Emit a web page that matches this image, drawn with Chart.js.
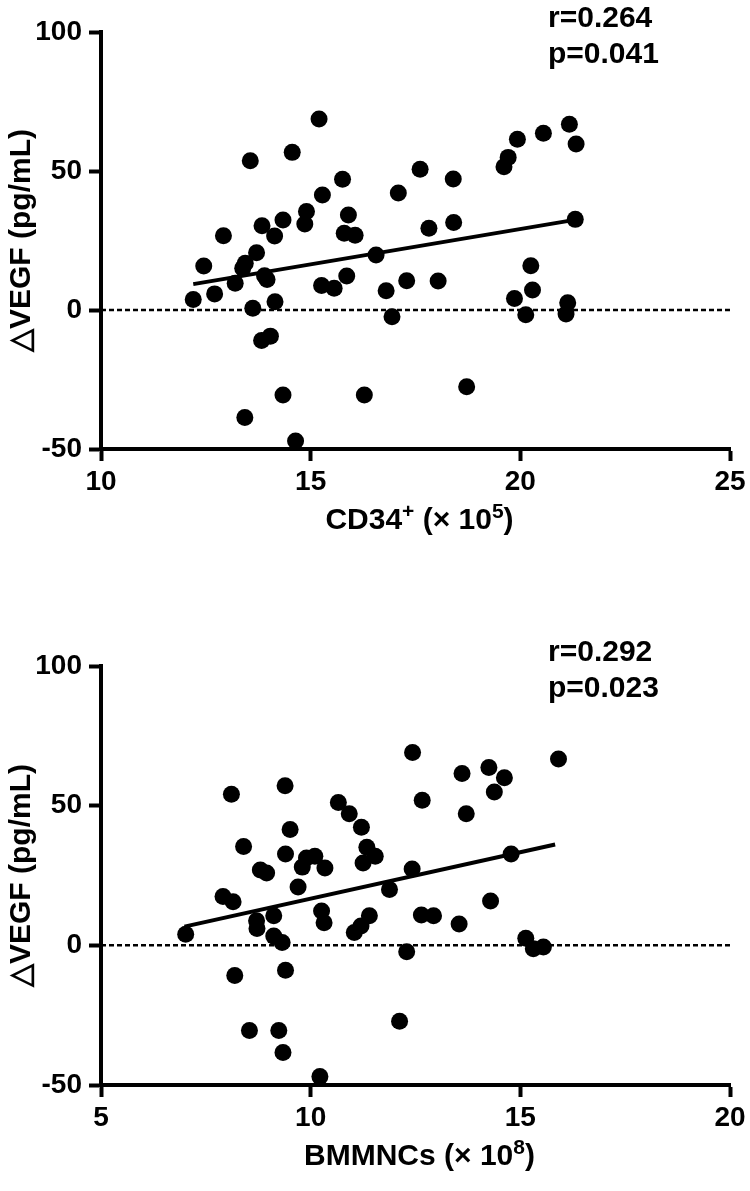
<!DOCTYPE html>
<html><head><meta charset="utf-8">
<script src="https://cdn.jsdelivr.net/npm/chart.js@4.4.1/dist/chart.umd.min.js"></script>
<style>
html,body{margin:0;padding:0;background:#fff}
body{width:750px;height:1191px;position:relative;overflow:hidden}
.box{position:absolute;left:0;width:750px}
</style></head><body>
<div class="box" style="top:0;height:595px"><canvas id="c1"></canvas></div>
<div class="box" style="top:634px;height:557px"><canvas id="c2"></canvas></div>
<script>
// ---- data ----
const cd34X = [12.20,12.45,12.71,12.92,13.20,13.38,13.44,13.43,13.56,13.62,13.71,13.84,13.83,13.96,13.90,14.04,14.14,14.15,14.34,14.34,14.56,14.64,14.86,14.90,15.20,15.26,15.28,15.56,15.76,15.80,15.86,15.90,16.06,16.28,16.56,16.80,16.94,17.09,17.29,17.61,17.82,18.04,18.40,18.41,18.72,19.61,19.71,19.86,19.93,20.13,20.25,20.29,20.55,21.09,21.13,21.17,21.31,21.33];
const cd34Y = [3.8,15.8,5.8,26.7,9.6,15.0,16.8,-38.7,53.7,0.6,20.6,30.3,-11.0,11.0,12.3,-9.4,26.6,3.0,32.4,-30.6,56.7,-47.1,30.9,35.4,68.7,8.8,41.4,7.8,47.0,27.6,12.2,34.2,26.9,-30.6,19.8,6.9,-2.4,42.1,10.5,50.6,29.4,10.4,47.1,31.5,-27.6,51.5,54.9,4.1,61.4,-1.7,15.9,7.2,63.6,-1.4,2.6,66.8,32.6,59.7];
const cd34FitX = [12.2, 21.33];
const cd34FitY = [9.3, 32.5];
const cd34Ticks = [10, 15, 20, 25];
const cd34Stats = ["r=0.264", "p=0.041"];
const cd34Title = [["CD34", false], ["+", true], [" (\u00D7 10", false], ["5", true], [")", false]];

const bmX = [7.02,7.91,8.15,8.11,8.19,8.40,8.54,8.71,8.72,8.80,8.95,9.12,9.12,9.24,9.32,9.34,9.39,9.40,9.40,9.51,9.70,9.80,9.90,10.10,10.22,10.26,10.32,10.34,10.66,10.92,11.04,11.20,11.21,11.25,11.34,11.40,11.54,11.88,12.12,12.29,12.42,12.43,12.64,12.66,12.93,13.54,13.61,13.71,14.25,14.29,14.38,14.62,14.78,15.13,15.31,15.55,15.91];
const bmY = [4.0,17.5,15.6,54.1,-10.8,35.4,-30.5,8.8,6.0,27.0,25.9,10.6,3.3,-30.5,1.0,-38.4,57.1,32.7,-8.9,41.5,20.9,28.0,31.3,31.9,-47.0,12.3,8.1,27.7,51.1,47.1,4.6,6.9,42.3,29.5,35.1,10.6,31.9,20.0,-27.2,-2.3,27.3,69.0,10.9,51.9,10.6,7.6,61.5,47.1,63.7,15.9,54.9,60.0,32.7,2.5,-1.2,-0.6,66.7];
const bmFitX = [6.99, 15.83];
const bmFitY = [6.7, 36.1];
const bmTicks = [5, 10, 15, 20];
const bmStats = ["r=0.292", "p=0.023"];
const bmTitle = [["BMMNCs (\u00D7 10", false], ["8", true], [")", false]];

const yTicks = [-50, 0, 50, 100];
const yTitle = "\u25B3VEGF (pg/mL)";

// ---- chart builder ----
const FAM = '"Liberation Sans", Arial, Helvetica, sans-serif';
function pts(xs, ys){ return xs.map((x,i)=>({x:x, y:ys[i]})); }

const textPlugin = {
  id: 'texts',
  afterDraw(chart, args, opts){
    const ctx = chart.ctx;
    const area = chart.chartArea;
    ctx.save();
    ctx.fillStyle = '#000';
    ctx.textAlign = 'left';
    ctx.textBaseline = 'alphabetic';
    // r / p statistics
    ctx.font = 'bold 30px ' + FAM;
    ctx.fillText(opts.lines[0], opts.x, area.top - 5);
    ctx.fillText(opts.lines[1], opts.x, area.top + 31);
    // x-axis title with superscripts
    const base = 'bold 30px ' + FAM, sup = 'bold 21px ' + FAM;
    let w = 0;
    opts.title.forEach(([t, s]) => { ctx.font = s ? sup : base; w += ctx.measureText(t).width; });
    let x = (area.left + area.right) / 2 - w / 2 + 4;
    const y = area.bottom + 80;
    opts.title.forEach(([t, s]) => {
      ctx.font = s ? sup : base;
      ctx.fillText(t, x, s ? y - 11 : y);
      x += ctx.measureText(t).width;
    });
    ctx.restore();
  }
};

function makeChart(id, xs, ys, fitX, fitY, xTicks, xTitle, stats, geo){
  const xmin = xTicks[0], xmax = xTicks[xTicks.length-1];
  return new Chart(document.getElementById(id), {
    type: 'scatter',
    data: {
      datasets: [
        { type:'line', data:[{x:xmin,y:0},{x:xmax,y:0}], borderColor:'#000', borderWidth:2.5,
          borderDash:[5,3], pointRadius:0, fill:false, order:3 },
        { data: pts(xs, ys), backgroundColor:'#000', borderWidth:0, pointRadius:8.5,
          pointHoverRadius:8.5, clip:false, order:2 },
        { type:'line', data: pts(fitX, fitY), borderColor:'#000', borderWidth:4,
          pointRadius:0, fill:false, order:1 }
      ]
    },
    options: {
      responsive: true, maintainAspectRatio: false, animation: false,
      events: [],
      layout: { padding: { top: 32, right: 20, left: 0, bottom: 0 } },
      plugins: { legend:{display:false}, tooltip:{enabled:false},
        texts: { lines: stats, x: 548, title: xTitle } },
      scales: {
        x: {
          type:'linear', min:xmin, max:xmax,
          afterBuildTicks: s => { s.ticks = xTicks.map(v=>({value:v})); },
          afterFit: s => { s.height = geo.xH; },
          ticks: { color:'#000', font:{family:FAM, size:28, weight:'bold'}, padding:4 },
          grid: { drawOnChartArea:false, drawTicks:true, tickLength:12, tickWidth:4, tickColor:'#000' },
          border: { display:true, width:4, color:'#000' },
          title: { display:false }
        },
        y: {
          type:'linear', min:-50, max:100,
          afterBuildTicks: s => { s.ticks = yTicks.map(v=>({value:v})); },
          afterFit: s => { s.width = 101; },
          ticks: { color:'#000', font:{family:FAM, size:28, weight:'bold'}, padding:7 },
          grid: { drawOnChartArea:false, drawTicks:true, tickLength:12, tickWidth:4, tickColor:'#000' },
          border: { display:true, width:4, color:'#000' },
          title: { display:true, text:yTitle, color:'#000',
                   font:{family:FAM, size:30, weight:'bold'}, padding:{top:4, bottom:0} }
        }
      }
    },
    plugins: [textPlugin]
  });
}

makeChart('c1', cd34X, cd34Y, cd34FitX, cd34FitY, cd34Ticks, cd34Title, cd34Stats, { xH: 146 });
makeChart('c2', bmX, bmY, bmFitX, bmFitY, bmTicks, bmTitle, bmStats, { xH: 106 });
</script>
</body></html>
